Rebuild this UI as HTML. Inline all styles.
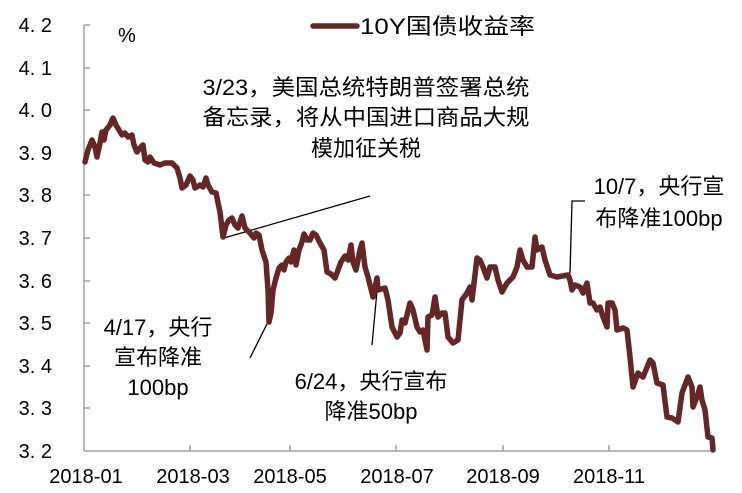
<!DOCTYPE html>
<html><head><meta charset="utf-8"><style>
html,body{margin:0;padding:0;background:#fff;}
svg{display:block;font-family:"Liberation Sans","Noto Sans CJK SC",sans-serif;}
</style></head><body>
<svg width="742" height="493" viewBox="0 0 742 493" xmlns="http://www.w3.org/2000/svg">
<g stroke="#a0a0a0" stroke-width="1.5" fill="none">
<line x1="84" y1="25" x2="84" y2="451"/>
<line x1="84" y1="451" x2="714" y2="451"/>
<line x1="84" y1="25" x2="90" y2="25"/><line x1="84" y1="68" x2="90" y2="68"/><line x1="84" y1="110" x2="90" y2="110"/><line x1="84" y1="153" x2="90" y2="153"/><line x1="84" y1="195" x2="90" y2="195"/><line x1="84" y1="238" x2="90" y2="238"/><line x1="84" y1="281" x2="90" y2="281"/><line x1="84" y1="323" x2="90" y2="323"/><line x1="84" y1="366" x2="90" y2="366"/><line x1="84" y1="408" x2="90" y2="408"/>
<line x1="190" y1="451" x2="190" y2="445"/><line x1="290" y1="451" x2="290" y2="445"/><line x1="396" y1="451" x2="396" y2="445"/><line x1="503" y1="451" x2="503" y2="445"/><line x1="609" y1="451" x2="609" y2="445"/><line x1="713" y1="451" x2="713" y2="445"/>
</g>
<g font-size="20" fill="#000" text-anchor="end">
<text x="52" y="32">4. 2</text><text x="52" y="75">4. 1</text><text x="52" y="117">4. 0</text><text x="52" y="160">3. 9</text><text x="52" y="202">3. 8</text><text x="52" y="245">3. 7</text><text x="52" y="288">3. 6</text><text x="52" y="330">3. 5</text><text x="52" y="373">3. 4</text><text x="52" y="415">3. 3</text><text x="52" y="458">3. 2</text>
</g>
<g font-size="20" fill="#000" text-anchor="middle">
<text x="86" y="483">2018-01</text><text x="193" y="483">2018-03</text><text x="290" y="483">2018-05</text><text x="397" y="483">2018-07</text><text x="503" y="483">2018-09</text><text x="609" y="483">2018-11</text>
</g>
<text x="118" y="42" font-size="20">%</text>
<line x1="313" y1="26" x2="357" y2="26" stroke="#662626" stroke-width="5.5" stroke-linecap="round"/>
<text x="360" y="34" font-size="22" textLength="175" lengthAdjust="spacingAndGlyphs">10Y国债收益率</text>
<g stroke="#000" stroke-width="1.3" fill="none">
<polyline points="224,238 370,196"/>
<polyline points="268,322 250,358"/>
<polyline points="377,291 372,345"/>
<polyline points="570,273 572,201 585,201"/>
</g>
<polyline fill="none" stroke="#662626" stroke-width="5.5" stroke-linejoin="round" stroke-linecap="round" points="85,162 88,150 92,140 95,147 97,157 100,143 102,132 104,140 106,130 110,125 113,118 116,125 119,130 122,135 125,133 128,137 132,135 134,145 137,152 140,148 143,145 145,160 148,162 150,157 154,163 160,165 165,163 172,163 177,168 180,178 182,188 186,185 190,176 193,180 195,188 200,185 203,187 206,178 208,185 212,192 216,193 220,212 223,237 226,225 229,220 232,218 235,225 238,228 242,216 245,228 250,233 254,238 256,233 259,235 262,250 266,262 268,290 269,322 271,313 273,290 276,278 279,268 282,265 284,270 286,262 289,258 291,262 294,250 296,265 299,250 302,242 304,234 307,240 310,240 313,233 316,235 320,243 324,250 327,272 331,274 335,278 338,270 341,262 345,256 348,260 351,245 353,262 356,270 360,250 362,243 365,267 368,277 373,297 377,278 378,290 385,288 388,300 392,327 397,337 400,333 402,320 405,323 410,303 413,310 417,327 420,332 423,330 427,350 428,317 432,315 435,297 438,317 442,313 445,313 448,337 453,343 458,340 462,300 467,293 470,287 472,300 477,258 480,260 483,267 487,278 490,267 495,267 498,280 502,292 507,283 510,280 513,277 517,267 520,250 523,260 527,267 532,267 535,237 537,250 542,247 545,260 550,275 557,277 568,275 570,280 572,290 575,285 580,287 583,293 587,283 590,303 593,303 597,310 600,307 603,317 607,327 608,303 612,303 615,310 617,330 623,328 627,330 630,357 633,387 638,373 643,377 650,360 653,363 657,383 663,385 667,417 672,418 678,422 682,393 688,377 692,387 693,407 697,397 700,387 702,400 705,410 708,437 712,438 713,450"/>
<g font-size="22" fill="#000" text-anchor="middle">
<text x="366" y="95" textLength="327" lengthAdjust="spacingAndGlyphs">3/23，美国总统特朗普签署总统</text>
<text x="366" y="125" textLength="327" lengthAdjust="spacingAndGlyphs">备忘录，将从中国进口商品大规</text>
<text x="366" y="156">模加征关税</text>
<text x="659" y="194">10/7，央行宣</text>
<text x="659" y="226">布降准100bp</text>
<text x="158" y="335">4/17，央行</text>
<text x="158" y="365">宣布降准</text>
<text x="158" y="395">100bp</text>
<text x="371" y="389">6/24，央行宣布</text>
<text x="371" y="419">降准50bp</text>
</g>
</svg>
</body></html>
